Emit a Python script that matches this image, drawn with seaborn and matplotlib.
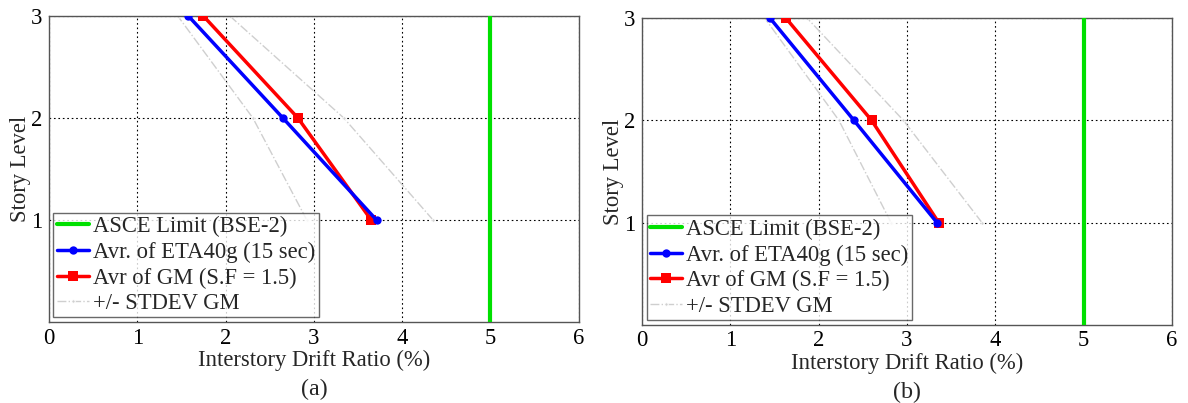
import numpy as np
import pandas as pd
import matplotlib
matplotlib.use("Agg")
import matplotlib.pyplot as plt
import seaborn as sns

# Story levels
levels = [1, 2, 3]

# Case (a): interstory drift ratio (%) per story level
a_eta = [3.71, 2.65, 1.58]
a_gm = [3.65, 2.82, 1.75]
a_gm_lo = [2.92, 2.31, 1.46]
a_gm_hi = [4.35, 3.34, 2.05]

# Case (b)
b_eta = [3.34, 2.40, 1.45]
b_gm = [3.36, 2.60, 1.63]
b_gm_lo = [2.82, 2.23, 1.39]
b_gm_hi = [3.85, 2.96, 1.87]

asce_limit = 5.0
x_ticks = [0, 1, 2, 3, 4, 5, 6]
y_ticks = [1, 2, 3]
panel_tags = ["(a)", "(b)"]

sns.set_style("white")
plt.rcParams["font.family"] = ["Liberation Serif", "DejaVu Serif"]
plt.rcParams["mathtext.fontset"] = "stix"

fig = plt.figure(figsize=(11.88, 4.03), dpi=100)
ax_a = fig.add_axes([0.0412, 0.201, 0.446, 0.759])
ax_b = fig.add_axes([0.5404, 0.194, 0.446, 0.761])

FS = 16.3


def draw_panel(ax, eta, gm, lo, hi, tag):
    ax.set_xlim(0, 6)
    ax.set_ylim(0, 3)
    # Limit line
    sns.lineplot(x=[asce_limit, asce_limit], y=[0, 3], ax=ax, color="#00e000",
                 lw=3, sort=False, estimator=None, label="ASCE Limit (BSE-2)",
                 zorder=3)
    sns.lineplot(x=eta, y=levels, ax=ax, color="#0000ff", lw=2.5, marker="o",
                 markersize=6, markeredgewidth=0, sort=False, estimator=None,
                 label="Avr. of ETA40g (15 sec)", zorder=5)
    sns.lineplot(x=gm, y=levels, ax=ax, color="#ff0000", lw=2.5, marker="s",
                 markersize=7, markeredgewidth=0, sort=False, estimator=None,
                 label="Avr of GM (S.F = 1.5)", zorder=4)
    sns.lineplot(x=lo, y=levels, ax=ax, color="#cfcfcf", lw=1.0, ls="-.",
                 marker=".", markersize=5, sort=False, estimator=None,
                 label="+/- STDEV GM", zorder=2)
    sns.lineplot(x=hi, y=levels, ax=ax, color="#cfcfcf", lw=1.0, ls="-.",
                 marker=".", markersize=5, sort=False, estimator=None,
                 zorder=2)

    ax.set_xticks(x_ticks)
    ax.set_yticks(y_ticks)
    ax.grid(True, color="black", ls=(0, (1.5, 2.5)), lw=0.8)
    ax.tick_params(axis="both", direction="in", length=5, labelsize=FS,
                   colors="#555555", labelcolor="black")
    ax.tick_params(axis="x", pad=4)
    ax.tick_params(axis="y", pad=5)
    for s in ax.spines.values():
        s.set_color("#555555")
        s.set_linewidth(1.0)
    ax.set_xlabel("Interstory Drift Ratio (%)", fontsize=FS, labelpad=1)
    ax.set_ylabel("Story Level", fontsize=FS, labelpad=0)
    leg = ax.legend(loc="lower left", fontsize=FS, frameon=True,
                    fancybox=False, handlelength=1.4, handletextpad=0.2,
                    borderpad=0.15, labelspacing=0.2, borderaxespad=0.2)
    leg.get_frame().set_edgecolor("#444444")
    leg.get_frame().set_linewidth(1.0)
    ax.text(0.5, -0.22, tag, transform=ax.transAxes, ha="center",
            va="center", fontsize=FS + 1)


draw_panel(ax_a, a_eta, a_gm, a_gm_lo, a_gm_hi, panel_tags[0])
draw_panel(ax_b, b_eta, b_gm, b_gm_lo, b_gm_hi, panel_tags[1])

fig.savefig("out.png", dpi=100)
